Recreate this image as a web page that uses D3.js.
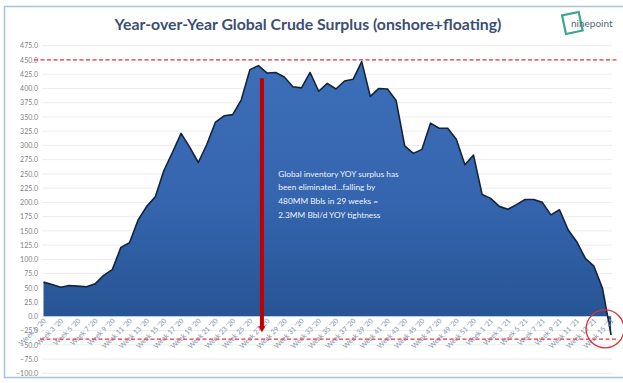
<!DOCTYPE html>
<html>
<head>
<meta charset="utf-8">
<script src="https://cdn.jsdelivr.net/npm/d3@7"></script>
<style>
  html, body { margin: 0; padding: 0; background: #ffffff; }
  svg { display: block; }
</style>
</head>
<body>
<svg id="chart" width="623" height="383"></svg>
<script>
// Weekly YoY global crude surplus (MM bbls), onshore + floating storage
const weeks2020 = d3.range(1, 53).map(w => `Week ${w} '20`);
const weeks2021 = d3.range(1, 16).map(w => `Week ${w} '21`);
const weeks = weeks2020.concat(weeks2021);

const surplus = [
  60, 56, 51, 54, 53, 52, 57, 72, 82, 121,
  129, 169, 193, 210, 256, 288, 321, 297, 270, 302,
  341, 352, 354, 380, 433, 440, 427, 428, 420, 403,
  401, 428, 395, 409, 399, 413, 416, 447, 386, 400,
  399, 379, 299, 286, 293, 339, 330, 330, 311, 266,
  283, 214, 207, 193, 188, 196, 205, 205, 200, 178,
  187, 152, 131, 102, 88, 49, -33
];

// Y axis ticks
const yTicks = d3.range(-100, 476, 25);

// Reference levels (dashed)
const refLevels = [450, -40];

// Annotation arrow: week position and value span
const arrowPos = { index: 25.4, top: 418, bottom: -28 };
const noteLines = [
  "Global inventory YOY surplus has",
  "been eliminated\u2026falling by",
  "480MM Bbls in 29 weeks =",
  "2.3MM Bbl/d YOY tightness"
];
const notePos = { index: 27.3, value: 245 };

// Highlight circle at the end of the series
const endMark = { index: 65.3, value: -22 };

const svg = d3.select("#chart");
const W = 623;

// outer frame
svg.append("rect")
  .attr("x", 4.5).attr("y", 6.5).attr("width", W + 10).attr("height", 371)
  .attr("fill", "#ffffff").attr("stroke", "#a9c1e3").attr("stroke-width", 1.5);

const x = d3.scaleLinear().domain([0, weeks.length - 1]).range([43.5, 611.1]);
const y = d3.scaleLinear().domain([-100, 475]).range([373.3, 45.7]);

// gridlines
svg.append("g").selectAll("line").data(yTicks).join("line")
  .attr("x1", 42).attr("x2", 612)
  .attr("y1", d => y(d)).attr("y2", d => y(d))
  .attr("stroke", "#ececec").attr("stroke-width", 1);

// y-axis labels
const yAxis = d3.axisLeft(y).tickValues(yTicks).tickFormat(d3.format(".1f")).tickSize(0).tickPadding(0);
svg.append("g").attr("transform", "translate(38,0)").call(yAxis)
  .call(g => g.select(".domain").remove())
  .call(g => g.selectAll("text")
    .attr("fill", "#7f7f7f").attr("font-size", "7px").attr("font-family", "Lato, 'Open Sans', sans-serif"));

// gradient for the area
const defs = svg.append("defs");
const grad = defs.append("linearGradient").attr("id", "areaGrad")
  .attr("gradientUnits", "userSpaceOnUse")
  .attr("x1", 0).attr("x2", 0).attr("y1", y(450)).attr("y2", y(0));
grad.append("stop").attr("offset", "0%").attr("stop-color", "#3d6eb8");
grad.append("stop").attr("offset", "55%").attr("stop-color", "#3465ae");
grad.append("stop").attr("offset", "100%").attr("stop-color", "#275494");

const area = d3.area().x((d, i) => x(i)).y0(y(0)).y1(d => y(d));
const line = d3.line().x((d, i) => x(i)).y(d => y(d));

svg.append("path").datum(surplus).attr("d", area).attr("fill", "url(#areaGrad)");
svg.append("path").datum(surplus).attr("d", line)
  .attr("fill", "none").attr("stroke", "#15243a").attr("stroke-width", 1.6)
  .attr("stroke-linejoin", "round");

// x-axis labels (every other week), rotated
const xLabelIdx = d3.range(0, weeks.length, 2);
svg.append("g").selectAll("text").data(xLabelIdx).join("text")
  .attr("transform", i => `translate(${x(i) + 3},${y(0) + 5}) rotate(-45)`)
  .attr("text-anchor", "end")
  .attr("font-size", "7px")
  .attr("font-family", "Lato, 'Open Sans', sans-serif")
  .attr("fill", "#8794ae")
  .text(i => weeks[i]);

// dashed reference lines
svg.append("g").selectAll("line").data(refLevels).join("line")
  .attr("x1", d => d > 0 ? 34 : 40).attr("x2", 618)
  .attr("y1", d => y(d)).attr("y2", d => y(d))
  .attr("stroke", "#e2393b").attr("stroke-width", 1.2)
  .attr("stroke-dasharray", "4,2.5");

// annotation arrow
const ax = x(arrowPos.index);
svg.append("line")
  .attr("x1", ax).attr("x2", ax)
  .attr("y1", y(arrowPos.top)).attr("y2", y(arrowPos.bottom) - 4)
  .attr("stroke", "#c00000").attr("stroke-width", 4);
svg.append("path")
  .attr("d", `M${ax - 3.5},${y(arrowPos.bottom) - 6} L${ax + 3.5},${y(arrowPos.bottom) - 6} L${ax},${y(arrowPos.bottom)} Z`)
  .attr("fill", "#c00000");

// annotation text
svg.append("text")
  .attr("x", x(notePos.index)).attr("y", y(notePos.value))
  .attr("font-size", "8.3px").attr("font-family", "Lato, 'Open Sans', sans-serif")
  .attr("fill", "#eef3fb")
  .selectAll("tspan").data(noteLines).join("tspan")
  .attr("x", x(notePos.index)).attr("dy", (d, i) => i === 0 ? 0 : 13.6)
  .text(d => d);

// end-of-series highlight circle
svg.append("circle")
  .attr("cx", x(endMark.index)).attr("cy", y(endMark.value)).attr("r", 19)
  .attr("fill", "none").attr("stroke", "#d9343a").attr("stroke-width", 1.3);

// title
svg.append("text")
  .attr("x", 308).attr("y", 30)
  .attr("text-anchor", "middle")
  .attr("font-size", "15.8px").attr("font-weight", "bold")
  .attr("font-family", "Lato, 'Open Sans', sans-serif")
  .attr("fill", "#3b4f72")
  .text("Year-over-Year Global Crude Surplus (onshore+floating)");

// logo
const logo = svg.append("g").attr("transform", "translate(570,24)");
logo.append("rect")
  .attr("x", -6).attr("y", -10).attr("width", 17).attr("height", 19)
  .attr("transform", "rotate(-12)")
  .attr("fill", "none").attr("stroke", "#3aa58c").attr("stroke-width", 2.2);
logo.append("text")
  .attr("x", 1).attr("y", 3)
  .attr("font-size", "10px").attr("font-family", "Lato, 'Open Sans', sans-serif")
  .attr("fill", "#4f6f78")
  .text("ninepoint");
</script>
</body>
</html>
